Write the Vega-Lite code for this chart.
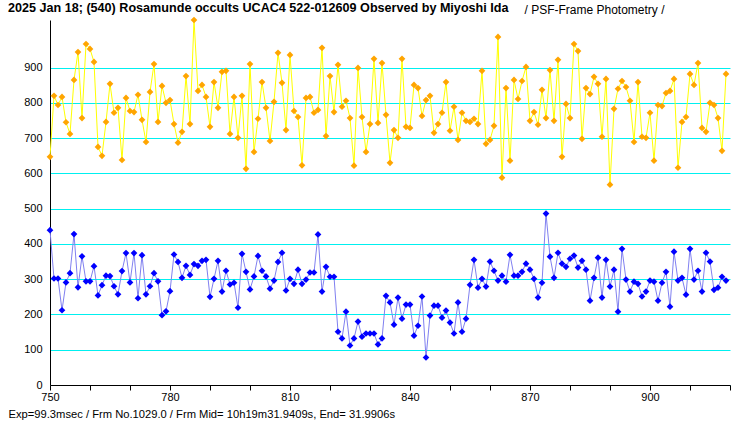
{
  "$schema": "https://vega.github.io/schema/vega-lite/v6.json",
  "autosize": "none",
  "width": 680,
  "height": 365,
  "padding": {"left": 50, "top": 20, "right": 10, "bottom": 40},
  "background": "white",
  "title": {
    "text": "2025 Jan 18; (540) Rosamunde occults UCAC4 522-012609 Observed by Miyoshi Ida",
    "anchor": "start",
    "frame": "group",
    "dx": -42,
    "dy": 12,
    "offset": 0,
    "font": "Liberation Sans",
    "fontSize": 12.6,
    "fontWeight": "bold",
    "color": "black"
  },
  "datasets": {
    "comparison": [
      {"frame": 750, "value": 647}, {"frame": 751, "value": 820}, {"frame": 752, "value": 794}, {"frame": 753, "value": 817},
      {"frame": 754, "value": 745}, {"frame": 755, "value": 712}, {"frame": 756, "value": 865}, {"frame": 757, "value": 944},
      {"frame": 758, "value": 757}, {"frame": 759, "value": 967}, {"frame": 760, "value": 953}, {"frame": 761, "value": 916},
      {"frame": 762, "value": 675}, {"frame": 763, "value": 650}, {"frame": 764, "value": 746}, {"frame": 765, "value": 854},
      {"frame": 766, "value": 772}, {"frame": 767, "value": 786}, {"frame": 768, "value": 638}, {"frame": 769, "value": 814},
      {"frame": 770, "value": 777}, {"frame": 771, "value": 774}, {"frame": 772, "value": 823}, {"frame": 773, "value": 752},
      {"frame": 774, "value": 689}, {"frame": 775, "value": 831}, {"frame": 776, "value": 910}, {"frame": 777, "value": 746},
      {"frame": 778, "value": 848}, {"frame": 779, "value": 800}, {"frame": 780, "value": 808}, {"frame": 781, "value": 740},
      {"frame": 782, "value": 687}, {"frame": 783, "value": 718}, {"frame": 784, "value": 876}, {"frame": 785, "value": 740},
      {"frame": 786, "value": 1035}, {"frame": 787, "value": 834}, {"frame": 788, "value": 851}, {"frame": 789, "value": 817},
      {"frame": 790, "value": 732}, {"frame": 791, "value": 859}, {"frame": 792, "value": 786}, {"frame": 793, "value": 888},
      {"frame": 794, "value": 891}, {"frame": 795, "value": 712}, {"frame": 796, "value": 817}, {"frame": 797, "value": 701},
      {"frame": 798, "value": 820}, {"frame": 799, "value": 613}, {"frame": 800, "value": 910}, {"frame": 801, "value": 661},
      {"frame": 802, "value": 755}, {"frame": 803, "value": 859}, {"frame": 804, "value": 786}, {"frame": 805, "value": 692},
      {"frame": 806, "value": 803}, {"frame": 807, "value": 942}, {"frame": 808, "value": 857}, {"frame": 809, "value": 723},
      {"frame": 810, "value": 936}, {"frame": 811, "value": 777}, {"frame": 812, "value": 760}, {"frame": 813, "value": 623},
      {"frame": 814, "value": 814}, {"frame": 815, "value": 817}, {"frame": 816, "value": 772}, {"frame": 817, "value": 780},
      {"frame": 818, "value": 956}, {"frame": 819, "value": 706}, {"frame": 820, "value": 876}, {"frame": 821, "value": 774},
      {"frame": 822, "value": 908}, {"frame": 823, "value": 789}, {"frame": 824, "value": 806}, {"frame": 825, "value": 757},
      {"frame": 826, "value": 622}, {"frame": 827, "value": 899}, {"frame": 828, "value": 760}, {"frame": 829, "value": 661},
      {"frame": 830, "value": 740}, {"frame": 831, "value": 925}, {"frame": 832, "value": 743}, {"frame": 833, "value": 913},
      {"frame": 834, "value": 766}, {"frame": 835, "value": 630}, {"frame": 836, "value": 723}, {"frame": 837, "value": 701},
      {"frame": 838, "value": 925}, {"frame": 839, "value": 732}, {"frame": 840, "value": 729}, {"frame": 841, "value": 851},
      {"frame": 842, "value": 842}, {"frame": 843, "value": 763}, {"frame": 844, "value": 808}, {"frame": 845, "value": 820},
      {"frame": 846, "value": 715}, {"frame": 847, "value": 740}, {"frame": 848, "value": 772}, {"frame": 849, "value": 859},
      {"frame": 850, "value": 721}, {"frame": 851, "value": 789}, {"frame": 852, "value": 695}, {"frame": 853, "value": 772},
      {"frame": 854, "value": 749}, {"frame": 855, "value": 746}, {"frame": 856, "value": 755}, {"frame": 857, "value": 740},
      {"frame": 858, "value": 891}, {"frame": 859, "value": 684}, {"frame": 860, "value": 695}, {"frame": 861, "value": 735},
      {"frame": 862, "value": 987}, {"frame": 863, "value": 588}, {"frame": 864, "value": 842}, {"frame": 865, "value": 636},
      {"frame": 866, "value": 865}, {"frame": 867, "value": 811}, {"frame": 868, "value": 862}, {"frame": 869, "value": 902},
      {"frame": 870, "value": 749}, {"frame": 871, "value": 774}, {"frame": 872, "value": 738}, {"frame": 873, "value": 837},
      {"frame": 874, "value": 757}, {"frame": 875, "value": 893}, {"frame": 876, "value": 749}, {"frame": 877, "value": 922},
      {"frame": 878, "value": 647}, {"frame": 879, "value": 797}, {"frame": 880, "value": 757}, {"frame": 881, "value": 967},
      {"frame": 882, "value": 947}, {"frame": 883, "value": 698}, {"frame": 884, "value": 842}, {"frame": 885, "value": 825},
      {"frame": 886, "value": 874}, {"frame": 887, "value": 854}, {"frame": 888, "value": 704}, {"frame": 889, "value": 868},
      {"frame": 890, "value": 568}, {"frame": 891, "value": 783}, {"frame": 892, "value": 840}, {"frame": 893, "value": 862},
      {"frame": 894, "value": 845}, {"frame": 895, "value": 806}, {"frame": 896, "value": 689}, {"frame": 897, "value": 859},
      {"frame": 898, "value": 704}, {"frame": 899, "value": 701}, {"frame": 900, "value": 772}, {"frame": 901, "value": 636},
      {"frame": 902, "value": 794}, {"frame": 903, "value": 791}, {"frame": 904, "value": 828}, {"frame": 905, "value": 834},
      {"frame": 906, "value": 868}, {"frame": 907, "value": 616}, {"frame": 908, "value": 746}, {"frame": 909, "value": 760},
      {"frame": 910, "value": 882}, {"frame": 911, "value": 851}, {"frame": 912, "value": 913}, {"frame": 913, "value": 729},
      {"frame": 914, "value": 718}, {"frame": 915, "value": 800}, {"frame": 916, "value": 794}, {"frame": 917, "value": 757},
      {"frame": 918, "value": 664}, {"frame": 919, "value": 882}
    ],
    "target": [
      {"frame": 750, "value": 439}, {"frame": 751, "value": 302}, {"frame": 752, "value": 302}, {"frame": 753, "value": 212},
      {"frame": 754, "value": 291}, {"frame": 755, "value": 317}, {"frame": 756, "value": 428}, {"frame": 757, "value": 277},
      {"frame": 758, "value": 365}, {"frame": 759, "value": 294}, {"frame": 760, "value": 294}, {"frame": 761, "value": 337},
      {"frame": 762, "value": 254}, {"frame": 763, "value": 283}, {"frame": 764, "value": 310}, {"frame": 765, "value": 309},
      {"frame": 766, "value": 280}, {"frame": 767, "value": 257}, {"frame": 768, "value": 323}, {"frame": 769, "value": 374},
      {"frame": 770, "value": 291}, {"frame": 771, "value": 374}, {"frame": 772, "value": 246}, {"frame": 773, "value": 368},
      {"frame": 774, "value": 257}, {"frame": 775, "value": 280}, {"frame": 776, "value": 317}, {"frame": 777, "value": 294},
      {"frame": 778, "value": 198}, {"frame": 779, "value": 209}, {"frame": 780, "value": 266}, {"frame": 781, "value": 370},
      {"frame": 782, "value": 349}, {"frame": 783, "value": 304}, {"frame": 784, "value": 338}, {"frame": 785, "value": 312},
      {"frame": 786, "value": 343}, {"frame": 787, "value": 338}, {"frame": 788, "value": 352}, {"frame": 789, "value": 355},
      {"frame": 790, "value": 250}, {"frame": 791, "value": 301}, {"frame": 792, "value": 352}, {"frame": 793, "value": 265},
      {"frame": 794, "value": 324}, {"frame": 795, "value": 285}, {"frame": 796, "value": 290}, {"frame": 797, "value": 219},
      {"frame": 798, "value": 372}, {"frame": 799, "value": 321}, {"frame": 800, "value": 271}, {"frame": 801, "value": 308},
      {"frame": 802, "value": 366}, {"frame": 803, "value": 324}, {"frame": 804, "value": 308}, {"frame": 805, "value": 273},
      {"frame": 806, "value": 296}, {"frame": 807, "value": 349}, {"frame": 808, "value": 375}, {"frame": 809, "value": 268},
      {"frame": 810, "value": 301}, {"frame": 811, "value": 287}, {"frame": 812, "value": 327}, {"frame": 813, "value": 287},
      {"frame": 814, "value": 299}, {"frame": 815, "value": 319}, {"frame": 816, "value": 319}, {"frame": 817, "value": 427},
      {"frame": 818, "value": 265}, {"frame": 819, "value": 335}, {"frame": 820, "value": 307}, {"frame": 821, "value": 307},
      {"frame": 822, "value": 151}, {"frame": 823, "value": 132}, {"frame": 824, "value": 208}, {"frame": 825, "value": 112},
      {"frame": 826, "value": 132}, {"frame": 827, "value": 180}, {"frame": 828, "value": 137}, {"frame": 829, "value": 146},
      {"frame": 830, "value": 146}, {"frame": 831, "value": 146}, {"frame": 832, "value": 115}, {"frame": 833, "value": 132},
      {"frame": 834, "value": 253}, {"frame": 835, "value": 234}, {"frame": 836, "value": 171}, {"frame": 837, "value": 248},
      {"frame": 838, "value": 188}, {"frame": 839, "value": 228}, {"frame": 840, "value": 228}, {"frame": 841, "value": 140},
      {"frame": 842, "value": 168}, {"frame": 843, "value": 251}, {"frame": 844, "value": 78}, {"frame": 845, "value": 197},
      {"frame": 846, "value": 225}, {"frame": 847, "value": 225}, {"frame": 848, "value": 191}, {"frame": 849, "value": 211},
      {"frame": 850, "value": 177}, {"frame": 851, "value": 146}, {"frame": 852, "value": 234}, {"frame": 853, "value": 151},
      {"frame": 854, "value": 188}, {"frame": 855, "value": 284}, {"frame": 856, "value": 355}, {"frame": 857, "value": 276},
      {"frame": 858, "value": 301}, {"frame": 859, "value": 279}, {"frame": 860, "value": 350}, {"frame": 861, "value": 324},
      {"frame": 862, "value": 296}, {"frame": 863, "value": 310}, {"frame": 864, "value": 293}, {"frame": 865, "value": 369},
      {"frame": 866, "value": 310}, {"frame": 867, "value": 310}, {"frame": 868, "value": 321}, {"frame": 869, "value": 344},
      {"frame": 870, "value": 327}, {"frame": 871, "value": 301}, {"frame": 872, "value": 248}, {"frame": 873, "value": 290},
      {"frame": 874, "value": 486}, {"frame": 875, "value": 364}, {"frame": 876, "value": 304}, {"frame": 877, "value": 375},
      {"frame": 878, "value": 344}, {"frame": 879, "value": 335}, {"frame": 880, "value": 358}, {"frame": 881, "value": 367},
      {"frame": 882, "value": 333}, {"frame": 883, "value": 352}, {"frame": 884, "value": 327}, {"frame": 885, "value": 239},
      {"frame": 886, "value": 304}, {"frame": 887, "value": 361}, {"frame": 888, "value": 248}, {"frame": 889, "value": 355},
      {"frame": 890, "value": 279}, {"frame": 891, "value": 327}, {"frame": 892, "value": 208}, {"frame": 893, "value": 386},
      {"frame": 894, "value": 299}, {"frame": 895, "value": 265}, {"frame": 896, "value": 293}, {"frame": 897, "value": 287},
      {"frame": 898, "value": 251}, {"frame": 899, "value": 265}, {"frame": 900, "value": 296}, {"frame": 901, "value": 293},
      {"frame": 902, "value": 239}, {"frame": 903, "value": 290}, {"frame": 904, "value": 321}, {"frame": 905, "value": 222},
      {"frame": 906, "value": 378}, {"frame": 907, "value": 296}, {"frame": 908, "value": 304}, {"frame": 909, "value": 256},
      {"frame": 910, "value": 386}, {"frame": 911, "value": 299}, {"frame": 912, "value": 324}, {"frame": 913, "value": 265},
      {"frame": 914, "value": 375}, {"frame": 915, "value": 350}, {"frame": 916, "value": 270}, {"frame": 917, "value": 276},
      {"frame": 918, "value": 307}, {"frame": 919, "value": 296}
    ]
  },
  "encoding": {
    "x": {
      "field": "frame",
      "type": "quantitative",
      "scale": {"domain": [750, 920], "nice": false, "zero": false},
      "axis": {
        "values": [750, 760, 770, 780, 790, 800, 810, 820, 830, 840, 850, 860, 870, 880, 890, 900, 910, 920],
        "labelExpr": "datum.value % 30 == 0 && datum.value < 920 ? datum.label : ''",
        "labelFlush": false,
        "grid": false,
        "tickSize": 5,
        "tickColor": "black",
        "domainColor": "black",
        "labelFont": "Liberation Sans",
        "labelFontSize": 11,
        "labelColor": "black",
        "labelPadding": 1,
        "title": "Exp=99.3msec / Frm No.1029.0 / Frm Mid= 10h19m31.9409s,  End= 31.9906s",
        "titleX": -42,
        "titleY": 32,
        "titleAlign": "left",
        "titleBaseline": "alphabetic",
        "titleFont": "Liberation Sans",
        "titleFontSize": 11.2,
        "titleFontWeight": "normal",
        "titleColor": "black"
      }
    },
    "y": {
      "field": "value",
      "type": "quantitative",
      "scale": {"domain": [0, 1035], "nice": false},
      "axis": {
        "values": [0, 100, 200, 300, 400, 500, 600, 700, 800, 900],
        "grid": true,
        "gridColor": "#00F0F0",
        "gridOpacity": 1,
        "ticks": false,
        "domainColor": "black",
        "labelFont": "Liberation Sans",
        "labelFontSize": 11,
        "labelColor": "black",
        "labelPadding": 8,
        "title": "/ PSF-Frame Photometry /",
        "titleAngle": 0,
        "titleX": 474,
        "titleY": -7,
        "titleAlign": "left",
        "titleBaseline": "alphabetic",
        "titleFont": "Liberation Sans",
        "titleFontSize": 12,
        "titleFontWeight": "normal",
        "titleColor": "black"
      }
    }
  },
  "layer": [
    {
      "data": {"name": "comparison"},
      "mark": {"type": "line", "color": "#FFFF00", "strokeWidth": 1}
    },
    {
      "data": {"name": "comparison"},
      "mark": {"type": "point", "shape": "diamond", "filled": true, "color": "#FFA500", "size": 45, "opacity": 1}
    },
    {
      "data": {"name": "target"},
      "mark": {"type": "line", "color": "#8080F0", "strokeWidth": 1}
    },
    {
      "data": {"name": "target"},
      "mark": {"type": "point", "shape": "diamond", "filled": true, "color": "#0000FF", "size": 45, "opacity": 1}
    }
  ],
  "config": {"view": {"stroke": null}}
}
